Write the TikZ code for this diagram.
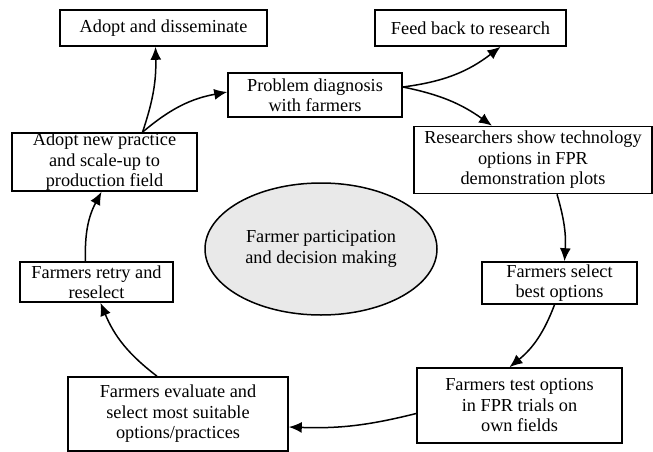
\documentclass[tikz,border=0pt]{standalone}
\usepackage{fontspec}
\setmainfont{Liberation Serif}
\usetikzlibrary{arrows.meta,shapes.geometric}
\begin{document}
\begin{tikzpicture}[x=1pt,y=-1pt,
  box/.style={draw, line width=1.6pt, align=center, inner sep=0pt,
    font=\fontsize{18.3}{20.5}\selectfont},
  oval/.style={ellipse, draw, line width=1.5pt, fill=gray!17, align=center, inner sep=0pt,
    font=\fontsize{18.3}{20.5}\selectfont},
  link/.style={line width=1.5pt, -{Latex[length=13pt,width=11pt]}}]
\useasboundingbox (0,0) rectangle (653,452);
\node[box, minimum width=207pt, minimum height=36pt] (adopt) at (163.5,28) {Adopt and disseminate};
\node[box, minimum width=174pt, minimum height=44pt] (problem) at (315,95) {Problem diagnosis\\with farmers};
\node[box, minimum width=191pt, minimum height=36pt] (feed) at (470.5,28) {Feed back to research};
\node[box, minimum width=238pt, minimum height=67pt] (research) at (533,160) {Researchers show technology\\options in FPR\\demonstration plots};
\node[box, minimum width=185pt, minimum height=58pt] (newpractice) at (104.5,162) {Adopt new practice\\and scale-up to\\production field};
\node[box, minimum width=153pt, minimum height=40pt] (retry) at (96.5,282) {Farmers retry and\\reselect};
\node[oval, minimum width=232pt, minimum height=132pt] (centre) at (321,249) {Farmer participation\\and decision making};
\node[box, minimum width=155pt, minimum height=42pt] (select) at (559.5,283) {Farmers select\\best options};
\node[box, minimum width=205pt, minimum height=75pt] (test) at (519.5,405.5) {Farmers test options\\in FPR trials on\\own fields};
\node[box, minimum width=220pt, minimum height=74pt] (evaluate) at (178,414) {Farmers evaluate and\\select most suitable\\options/practices};

\draw[link] ([xshift=38pt]newpractice.north) to[bend right=10] ([xshift=-8pt]adopt.south);
\draw[link] ([xshift=38pt]newpractice.north) to[bend left=15] ([yshift=3pt]problem.west);
\draw[link] ([yshift=8pt]problem.east) to[bend right=15] ([xshift=30pt]feed.south);
\draw[link] ([yshift=8pt]problem.east) to[bend left=12] ([xshift=-41pt]research.north);
\draw[link] ([xshift=24pt]research.south) to[bend left=10] ([xshift=5pt]select.north);
\draw[link] ([xshift=-5pt]select.south) to[bend left=15] ([xshift=-10pt]test.north);
\draw[link] ([yshift=-8pt]test.west) to[bend left=8] ([yshift=-13pt]evaluate.east);
\draw[link] ([xshift=-21pt]evaluate.north) to[bend left=15] ([xshift=4pt]retry.south);
\draw[link] ([xshift=-11pt]retry.north) to[bend left=15] ([xshift=-3pt]newpractice.south);
\end{tikzpicture}
\end{document}
